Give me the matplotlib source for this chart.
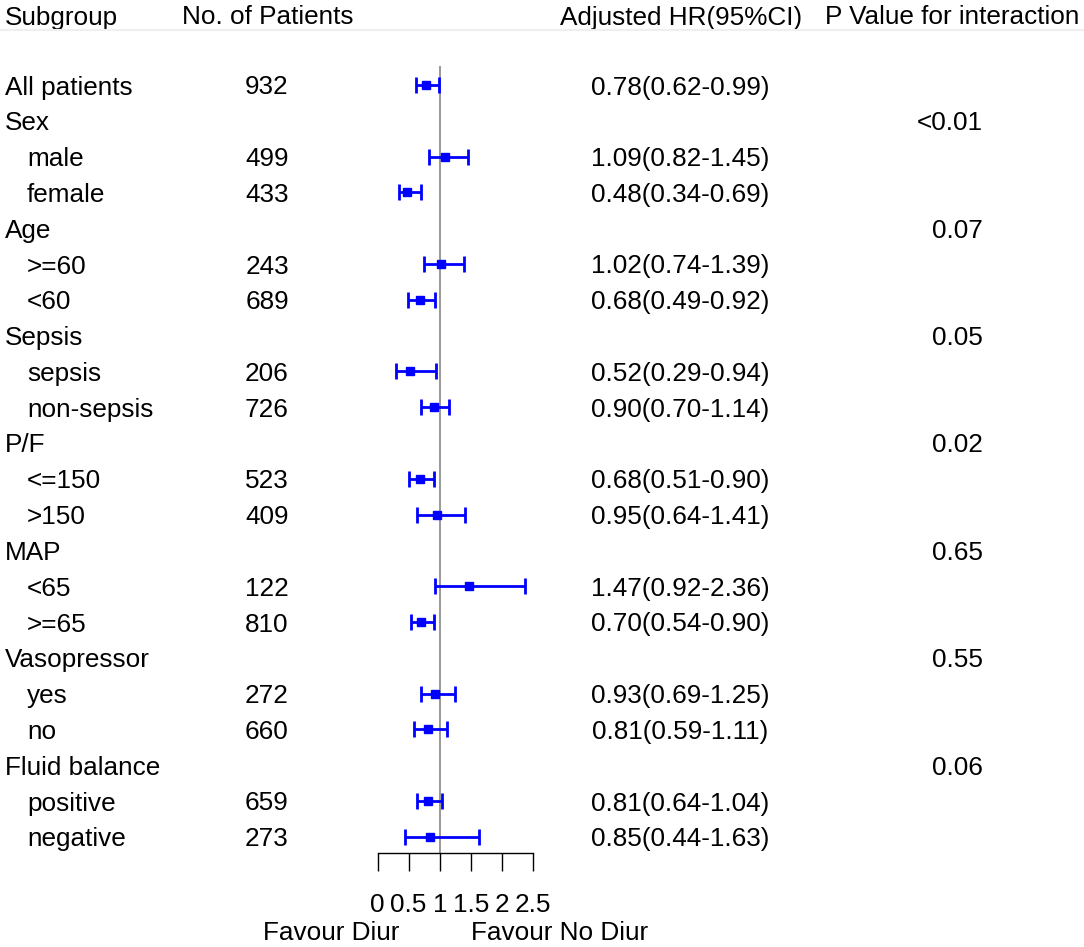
import numpy as np
import matplotlib
matplotlib.use('Agg')
import matplotlib.pyplot as plt
import matplotlib.transforms as mtransforms
from matplotlib.lines import Line2D

plt.rcParams['font.family'] = ['Liberation Sans', 'DejaVu Sans']

labels = ['All patients', 'Sex', 'male', 'female', 'Age', '>=60', '<60',
          'Sepsis', 'sepsis', 'non-sepsis', 'P/F', '<=150', '>150',
          'MAP', '<65', '>=65', 'Vasopressor', 'yes', 'no',
          'Fluid balance', 'positive', 'negative']
indent = [0, 0, 1, 1, 0, 1, 1, 0, 1, 1, 0, 1, 1, 0, 1, 1, 0, 1, 1, 0, 1, 1]
n_patients = ['932', '', '499', '433', '', '243', '689', '', '206', '726', '',
              '523', '409', '', '122', '810', '', '272', '660', '', '659', '273']
hr = [0.78, None, 1.09, 0.48, None, 1.02, 0.68, None, 0.52, 0.90, None,
      0.68, 0.95, None, 1.47, 0.70, None, 0.93, 0.81, None, 0.81, 0.85]
lo = [0.62, None, 0.82, 0.34, None, 0.74, 0.49, None, 0.29, 0.70, None,
      0.51, 0.64, None, 0.92, 0.54, None, 0.69, 0.59, None, 0.64, 0.44]
hi = [0.99, None, 1.45, 0.69, None, 1.39, 0.92, None, 0.94, 1.14, None,
      0.90, 1.41, None, 2.36, 0.90, None, 1.25, 1.11, None, 1.04, 1.63]
p_values = ['', '<0.01', '', '', '0.07', '', '', '0.05', '', '', '0.02', '', '',
            '0.65', '', '', '0.55', '', '', '0.06', '', '']
headers = ['Subgroup', 'No. of Patients', 'Adjusted HR(95%CI)', 'P Value for interaction']
ticks = [0, 0.5, 1, 1.5, 2, 2.5]

W, H = 1084, 947
fig = plt.figure(figsize=(W / 100, H / 100), dpi=100)

row_h = 35.8
y0 = 85
x0, x1 = 377.5, 533.3
top_pix, bot_pix = 66, 853
ax = fig.add_axes([x0 / W, 1 - bot_pix / H, (x1 - x0) / W, (bot_pix - top_pix) / H])
ax.set_xlim(0, 2.5)
ax.set_ylim((bot_pix - y0) / row_h, (top_pix - y0) / row_h)

fs = 18.8
rows = np.arange(len(labels))
idx = [i for i in rows if hr[i] is not None]
h = np.array([hr[i] for i in idx])
l = np.array([lo[i] for i in idx])
u = np.array([hi[i] for i in idx])
ax.axvline(1, color='#888888', lw=1.2, zorder=1)
ax.errorbar(h, rows[idx], xerr=[h - l, u - h], fmt='s', color='#0000ff',
            ms=6, capsize=5.6, elinewidth=2.0, capthick=2.0, zorder=3)

for s in ['top', 'right', 'left']:
    ax.spines[s].set_visible(False)
ax.spines['bottom'].set_linewidth(1.0)
ax.set_yticks([])
ax.set_xticks(ticks)
ax.set_xticklabels(['0', '0.5', '1', '1.5', '2', '2.5'])
ax.tick_params(axis='x', length=13, width=1.0, pad=16, labelsize=fs)

# text columns: x in figure pixels, y in row units, nudged down 2px
tr = mtransforms.blended_transform_factory(fig.transFigure, ax.transData)
tr = tr + mtransforms.ScaledTranslation(0, -2.5 / 100, fig.dpi_scale_trans)
for i in rows:
    ax.text((5 + 22 * indent[i]) / W, i, labels[i], transform=tr, fontsize=fs,
            va='center', ha='left')
    if n_patients[i]:
        ax.text(267 / W, i, n_patients[i], transform=tr, fontsize=fs,
                va='center', ha='center')
    if hr[i] is not None:
        ax.text(680 / W, i, '%.2f(%.2f-%.2f)' % (hr[i], lo[i], hi[i]),
                transform=tr, fontsize=fs, va='center', ha='center')
    if p_values[i]:
        ax.text(983 / W, i, p_values[i], transform=tr, fontsize=fs,
                va='center', ha='right')

head_row = (15 - y0) / row_h
for x, t in zip([5, 182, 560, 825], headers):
    ax.text(x / W, head_row, t, transform=tr, fontsize=fs, va='center', ha='left')

fig.add_artist(Line2D([0, 1], [1 - 30 / H, 1 - 30 / H], color='#efefef', lw=1.5))

fav_row = (931 - y0) / row_h
ax.text(331 / W, fav_row, 'Favour Diur', transform=tr, fontsize=fs, va='center', ha='center')
ax.text(560 / W, fav_row, 'Favour No Diur', transform=tr, fontsize=fs, va='center', ha='center')

fig.savefig('out.png', dpi=100)
